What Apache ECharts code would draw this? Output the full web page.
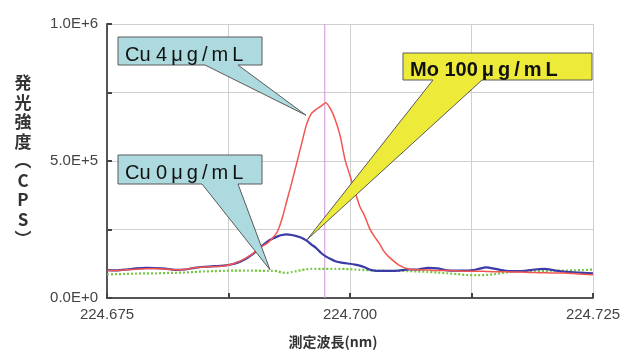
<!DOCTYPE html>
<html>
<head>
<meta charset="utf-8">
<script src="https://cdn.jsdelivr.net/npm/echarts@6/dist/echarts.min.js"></script>
<style>
html,body{margin:0;padding:0;background:#fff;}
#chart{width:626px;height:354px;}
</style>
</head>
<body>
<div id="chart"></div>
<script>
// Wavelengths (nm)
var wavelengths = [
  224.675,224.676,224.677,224.678,224.679,224.680,224.681,224.682,224.683,224.684,224.685,224.686,224.687,224.688,
  224.6885,224.689,224.6895,224.690,224.6905,224.691,224.6915,224.692,224.6925,224.693,224.6935,224.694,224.6945,224.695,
  224.6955,224.696,224.6965,224.697,224.6975,224.698,224.6985,224.699,224.6995,224.700,224.7005,224.701,224.7015,224.702,
  224.7025,224.703,224.7035,224.704,
  224.705,224.706,224.707,224.708,224.709,224.710,224.711,224.712,224.713,224.714,224.715,224.716,224.717,224.718,
  224.719,224.720,224.721,224.722,224.723,224.724,224.725
];
// Intensities in thousands of CPS
var cu4 = [
  100,100,103,105,107,108,106,103,104,110,113,115,117,125,
  132,140,150,162,177,190,200,218,240,288,355,420,490,560,630,672,688,700,713,690,649,590,503,446,390,335,300,255,225,200,170,150,
  121,106,103,102,100,100,99,98,98,97,96,96,95,94,93,92,91,91,89,87,85
];
var cu0 = [
  102,101,104,108,110,109,107,103,104,110,114,116,118,124,
  130,138,148,160,175,192,206,216,224,230,232,230,226,220,210,196,183,165,152,142,134,130,127,125,122,118,112,104,100,99,99,99,
  100,104,104,110,108,101,100,100,104,112,106,99,98,99,104,106,101,96,94,92,90
];
var mo100 = [
  86,87,88,89,90,90,91,92,93,95,97,98,99,100,
  100,100,100,100,100,99,99,99,98,93,92,95,98,102,105,106,106,106,106,106,106,106,106,105,104,103,102,101,100,100,100,99,
  99,98,97,95,93,90,87,84,83,84,88,93,97,98,99,99,100,100,101,102,104
];
var markerWavelength = 224.6974;
var markerRange = [0, 1000000];
var yTickLabels = {0:'0.0E+0', 500000:'5.0E+5', 1000000:'1.0E+6'};
var xLabelValues = ['224.675','224.700','224.725'];
var T = '\u2009';
var calloutTexts = [
  'Cu 4'+T+'\u03bc'+T+'g'+T+'/'+T+'m'+T+'L',
  'Cu 0'+T+'\u03bc'+T+'g'+T+'/'+T+'m'+T+'L',
  'Mo 100'+T+'\u03bc'+T+'g'+T+'/'+T+'m'+T+'L'
];
var calloutTips = [[224.69547, 667000],[224.69177, 103000],[224.69558, 213000]];

function pairs(vals){ return wavelengths.map(function(w,i){ return [w, vals[i]*1000]; }); }

var chart = echarts.init(document.getElementById('chart'), null, {renderer:'canvas'});
var axisFont = 'Liberation Sans, Arial, sans-serif';
var option = {
  animation:false,
  backgroundColor:'#fff',
  grid:{left:107, right:33, top:24, bottom:48},
  xAxis:{
    type:'value', min:224.675, max:224.725, interval:0.0125,
    axisLine:{lineStyle:{color:'#555', width:2}},
    axisTick:{inside:true, length:5, lineStyle:{color:'#444', width:2}},
    splitLine:{show:true, lineStyle:{color:'#cfcfcf', width:1}},
    axisLabel:{
      margin:9, color:'#444', fontSize:15, fontFamily:axisFont,
      formatter:function(v){
        var k = Math.round((v-224.675)/0.0125);
        return (k%2===0) ? xLabelValues[k/2] : '';
      }
    },
    name:'測定波長(nm)', nameLocation:'middle', nameGap:37,
    nameTextStyle:{color:'#333', fontSize:14, fontWeight:'bold', fontFamily:'Noto Sans CJK JP', padding:[0,34,0,0]}
  },
  yAxis:{
    type:'value', min:0, max:1000000, interval:250000,
    axisLine:{show:true, lineStyle:{color:'#555', width:2}},
    axisTick:{show:true, inside:true, length:5, lineStyle:{color:'#444', width:2}},
    splitLine:{show:true, lineStyle:{color:'#cfcfcf', width:1}},
    axisLabel:{
      margin:9, color:'#444', fontSize:15, fontFamily:axisFont,
      formatter:function(v){ var r = Math.round(v); return yTickLabels.hasOwnProperty(r) ? yTickLabels[r] : ''; }
    },
    name:'発\n光\n強\n度\n︵\nC\nP\nS\n︶', nameLocation:'middle', nameGap:84, nameRotate:0,
    nameTextStyle:{color:'#333', fontSize:17, fontWeight:'bold', fontFamily:'Noto Sans CJK JP', lineHeight:19.5, align:'center', verticalAlign:'middle'}
  },
  series:[
    {name:'marker', type:'line', data:[[markerWavelength, markerRange[0]],[markerWavelength, markerRange[1]]],
     showSymbol:false, silent:true, lineStyle:{color:'#d9a3e0', width:1.2}},
    {name:'Mo 100', type:'line', data:pairs(mo100), showSymbol:false, smooth:0.2,
     lineStyle:{color:'#74c640', width:2.2, type:[2,2]}},
    {name:'Cu 0', type:'line', data:pairs(cu0), showSymbol:false, smooth:0.2,
     lineStyle:{color:'#3b3aa8', width:2.2}},
    {name:'Cu 4', type:'line', data:pairs(cu4), showSymbol:false, smooth:0.2,
     lineStyle:{color:'#f2554e', width:1.5}}
  ]
};
chart.setOption(option);

// Callout layout (pixel boxes), tails pointing at data coordinates
var boxes = [
  {x0:118, y0:37, x1:262, y1:65, b0:205, b1:238, fill:'#acdadf', bold:false, size:20},
  {x0:118, y0:155, x1:262, y1:184, b0:202, b1:238, fill:'#acdadf', bold:false, size:20},
  {x0:403, y0:53, x1:592, y1:80, b0:433, b1:482, fill:'#eeea3a', bold:true, size:20}
];
var graphics = [];
boxes.forEach(function(b, i){
  var tip = chart.convertToPixel({gridIndex:0}, calloutTips[i]);
  graphics.push({
    type:'polygon', z:100,
    shape:{points:[[b.x0,b.y0],[b.x1,b.y0],[b.x1,b.y1],[b.b1,b.y1],tip,[b.b0,b.y1],[b.x0,b.y1]]},
    style:{fill:b.fill, stroke:'#5a5a5a', lineWidth:1}
  });
  graphics.push({
    type:'text', z:101, x:b.x0+7, y:(b.y0+b.y1)/2+4,
    style:{text:calloutTexts[i], fill:'#111', font:(b.bold?'bold ':'')+b.size+'px Liberation Sans, Arial, sans-serif',
      textAlign:'left', textVerticalAlign:'middle'}
  });
});
chart.setOption({graphic:graphics});
</script>
</body>
</html>
